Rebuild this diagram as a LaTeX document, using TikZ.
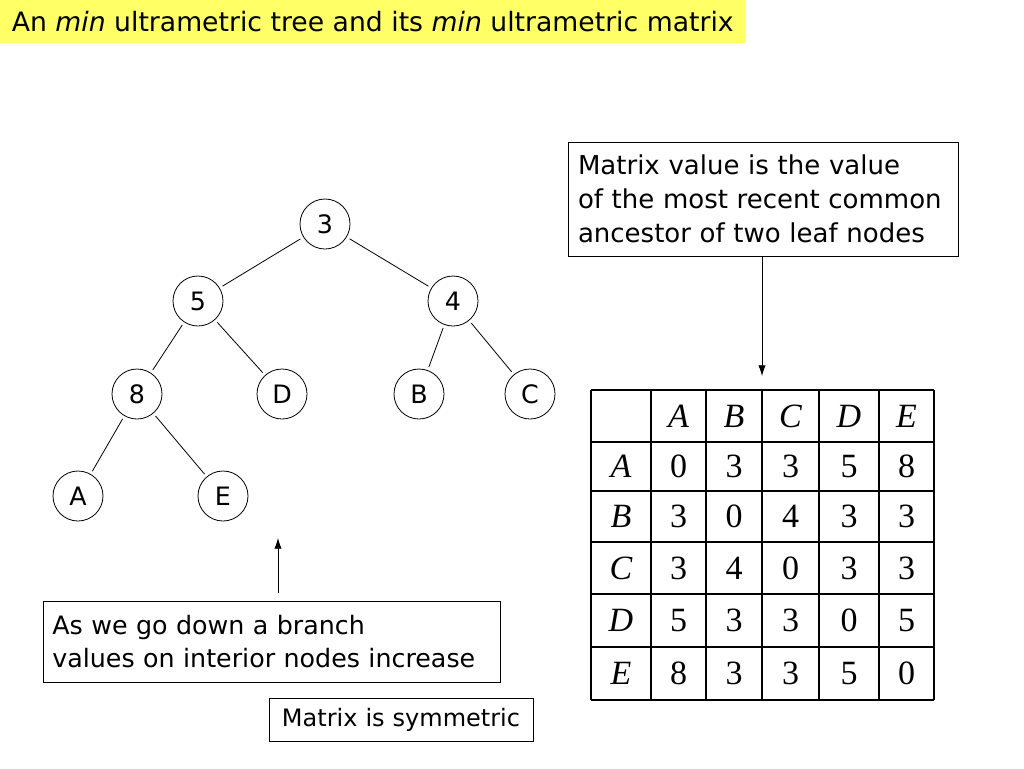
\documentclass[tikz,border=0pt]{standalone}
\usepackage{fontspec}
\setmainfont{DejaVu Sans}
\newfontfamily\tabfont{Liberation Serif}
\usepackage{xcolor}
\usepackage{tikz}
\usetikzlibrary{calc,shapes}
\usetikzlibrary{positioning}
\usetikzlibrary{arrows.meta}

\definecolor{titleyellow}{RGB}{255,255,102}

\tikzset{
  treenode/.style={circle,draw,line width=0.6pt,minimum size=37.5pt,inner sep=0pt,font=\fontsize{19}{22}\selectfont},
  treeedge/.style={line width=0.6pt,shorten <=2.5pt,shorten >=2.5pt},
  notebox/.style={draw,line width=0.6pt,align=left,inner ysep=0pt,font=\fontsize{19.5}{25.5}\selectfont},
  cell/.style={font=\tabfont\fontsize{25.5}{28}\selectfont,inner sep=0pt},
  callout/.style={-{Latex[length=8pt,width=5.5pt]},line width=0.6pt}
}

\begin{document}
\begin{tikzpicture}[x=0.75pt,y=0.75pt,yscale=-1,xscale=1]
  \useasboundingbox (0,0) rectangle (1024,768);

  % Title
  \node [fill=titleyellow,anchor=north west,minimum width=558.75pt,minimum height=32.25pt,inner sep=0pt,font=\fontsize{20}{24}\selectfont] (title) at (0,0) {An \textit{min} ultrametric tree and its \textit{min} ultrametric matrix};

  % Tree
  \node [treenode] (n3) at (325,224) {3};
  \node [treenode] (n5) at (198,301) {5};
  \node [treenode] (n4) at (453,301) {4};
  \node [treenode] (n8) at (137,394) {8};
  \node [treenode] (nD) at (282,394) {D};
  \node [treenode] (nB) at (419,394) {B};
  \node [treenode] (nC) at (530,394) {C};
  \node [treenode] (nA) at (78,496) {A};
  \node [treenode] (nE) at (223,496) {E};
  \foreach \p/\c in {n3/n5,n3/n4,n5/n8,n5/nD,n4/nB,n4/nC,n8/nA,n8/nE}
    \draw [treeedge] (\p) -- (\c);

  % Text boxes
  \node [notebox,text width=277.5pt,inner xsep=7.5pt,minimum height=85.5pt] (ancestor) at (763,199) {Matrix value is the value\\of the most recent common\\ancestor of two leaf nodes};
  \node [notebox,text width=328.75pt,inner xsep=7pt,minimum height=60.75pt,font=\fontsize{19}{25}\selectfont] (branch) at (271.5,641.5) {As we go down a branch\\values on interior nodes increase};
  \node [notebox,align=center,text width=183pt,inner xsep=7.5pt,minimum height=32.25pt,font=\fontsize{18}{22}\selectfont] (symm) at (401,719.5) {Matrix is symmetric};

  % Arrows
  \coordinate (tabtop) at (762,376);
  \coordinate (branchtip) at (278,538);
  \draw [callout] (ancestor.south -| tabtop) -- (tabtop);
  \draw [callout,shorten <=6pt] (branch.north -| branchtip) -- (branchtip);

  % Matrix table
  \foreach \x in {591,651,706,762,819,879,934}
    \draw [line width=0.8pt] (\x,390) -- (\x,700);
  \foreach \y in {390,442,491,542,594,647,700}
    \draw [line width=0.8pt] (591,\y) -- (934,\y);
  \foreach \x/\l in {678.5/A,734/B,790.5/C,849/D,906.5/E}
    \node [cell] (head-\l) at (\x,416) {\textit{\l}};
  \foreach \y/\l/\a/\b/\c/\d/\e in {466.5/A/0/3/3/5/8,516.5/B/3/0/4/3/3,568/C/3/4/0/3/3,620.5/D/5/3/3/0/5,673.5/E/8/3/3/5/0} {
    \node [cell] (row-\l) at (621,\y) {\textit{\l}};
    \node [cell] (\l-A) at (678.5,\y) {\a};
    \node [cell] (\l-B) at (734,\y) {\b};
    \node [cell] (\l-C) at (790.5,\y) {\c};
    \node [cell] (\l-D) at (849,\y) {\d};
    \node [cell] (\l-E) at (906.5,\y) {\e};
  }
\end{tikzpicture}
\end{document}
